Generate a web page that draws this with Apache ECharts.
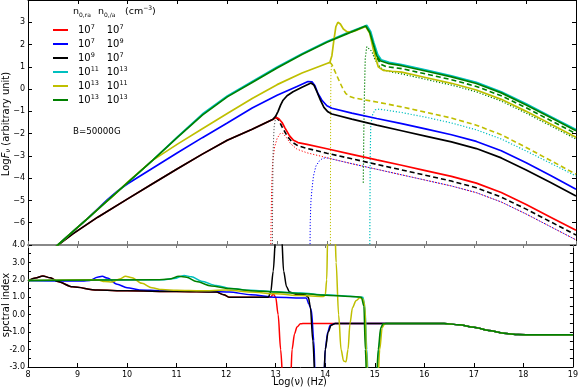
<!DOCTYPE html>
<html>
<head>
<meta charset="utf-8">
<script src="https://cdn.jsdelivr.net/npm/echarts@6/dist/echarts.min.js"></script>
<style>
  html, body { margin: 0; padding: 0; background: #fff; }
  #chart { width: 581px; height: 389px; }
</style>
</head>
<body>
<div id="chart"></div>
<script>
// --- top panel: Log F_nu vs Log(nu), [x, y] pairs ---
const fluxRed = [[8.0,-8.23],[8.3,-7.6],[8.6,-7.0],[8.9,-6.5],[9.4,-5.75],[10.0,-4.93],[10.5,-4.25],[11.0,-3.58],[11.5,-2.92],[12.0,-2.3],[12.5,-1.8],[12.92,-1.35],[12.98,-1.28],[13.03,-1.32],[13.1,-1.5],[13.16,-1.75],[13.25,-2.1],[13.33,-2.3],[13.42,-2.4],[13.6,-2.48],[14.0,-2.68],[14.5,-2.93],[15.0,-3.18],[15.5,-3.42],[16.0,-3.67],[16.5,-3.92],[17.0,-4.22],[17.5,-4.64],[18.0,-5.18],[18.5,-5.76],[19.0,-6.34]];
const fluxBlue = [[8.0,-8.2],[8.6,-7.0],[9.0,-6.2],[9.2,-5.8],[9.4,-5.38],[9.6,-4.95],[9.8,-4.57],[10.0,-4.25],[10.5,-3.55],[11.0,-2.86],[11.5,-2.18],[12.0,-1.52],[12.5,-0.85],[13.0,-0.28],[13.4,0.12],[13.62,0.34],[13.7,0.33],[13.76,0.15],[13.82,-0.2],[13.9,-0.5],[14.0,-0.75],[14.1,-0.86],[14.5,-1.08],[15.0,-1.32],[15.5,-1.55],[16.0,-1.8],[16.5,-2.05],[17.0,-2.35],[17.5,-2.77],[18.0,-3.31],[18.5,-3.89],[19.0,-4.5]];
const fluxBlack = [[8.0,-8.23],[8.3,-7.6],[8.6,-7.0],[8.9,-6.5],[9.4,-5.75],[10.0,-4.93],[10.5,-4.25],[11.0,-3.58],[11.5,-2.92],[12.0,-2.3],[12.5,-1.8],[12.92,-1.35],[12.97,-1.22],[13.02,-1.0],[13.07,-0.72],[13.12,-0.5],[13.2,-0.3],[13.32,-0.12],[13.5,0.08],[13.68,0.27],[13.74,0.18],[13.8,-0.12],[13.87,-0.5],[13.94,-0.82],[14.02,-1.02],[14.1,-1.12],[14.5,-1.35],[15.0,-1.62],[15.5,-1.87],[16.0,-2.12],[16.5,-2.37],[17.0,-2.67],[17.5,-3.09],[18.0,-3.63],[18.5,-4.21],[19.0,-4.8]];
const fluxCyan = [[8.0,-8.2],[8.6,-7.0],[9.0,-6.2],[9.2,-5.8],[9.5,-5.2],[10.0,-4.2],[10.5,-3.2],[11.0,-2.15],[11.5,-1.12],[12.0,-0.31],[12.5,0.34],[13.0,0.99],[13.5,1.59],[14.0,2.14],[14.4,2.52],[14.8,2.87],[14.88,2.58],[14.94,2.1],[15.02,1.55],[15.09,1.32],[15.25,1.2],[15.5,1.1],[16.0,0.85],[16.5,0.6],[17.0,0.3],[17.5,-0.12],[18.0,-0.66],[18.5,-1.24],[19.0,-1.82]];
const fluxYellow = [[8.0,-8.2],[8.6,-7.0],[9.0,-6.2],[9.2,-5.8],[9.5,-5.2],[9.7,-4.82],[10.0,-4.18],[10.5,-3.2],[11.0,-2.47],[11.5,-1.78],[12.0,-1.1],[12.5,-0.42],[13.0,0.2],[13.5,0.72],[14.0,1.15],[14.06,1.2],[14.1,1.5],[14.14,2.2],[14.18,2.8],[14.22,3.0],[14.27,2.92],[14.33,2.7],[14.4,2.58],[14.47,2.56],[14.55,2.6],[14.78,2.81],[14.86,2.5],[14.94,1.7],[15.03,1.0],[15.13,0.84],[15.3,0.8],[15.5,0.76],[16.0,0.51],[16.5,0.26],[17.0,-0.04],[17.5,-0.46],[18.0,-1.0],[18.5,-1.58],[19.0,-2.16]];
const fluxGreen = [[8.0,-8.2],[8.6,-7.0],[9.0,-6.2],[9.2,-5.8],[9.5,-5.2],[10.0,-4.2],[10.5,-3.2],[11.0,-2.17],[11.5,-1.17],[12.0,-0.35],[12.5,0.3],[13.0,0.95],[13.5,1.55],[14.0,2.1],[14.4,2.48],[14.78,2.83],[14.86,2.55],[14.92,2.1],[15.0,1.5],[15.07,1.27],[15.25,1.14],[15.5,1.05],[16.0,0.8],[16.5,0.55],[17.0,0.25],[17.5,-0.17],[18.0,-0.71],[18.5,-1.29],[19.0,-1.87]];

const dashBlack = [[12.97,-1.25],[13.03,-1.38],[13.1,-1.7],[13.2,-2.1],[13.3,-2.38],[13.42,-2.55],[13.6,-2.66],[14.0,-2.88],[14.5,-3.13],[15.0,-3.38],[15.5,-3.63],[16.0,-3.88],[16.5,-4.13],[17.0,-4.43],[17.5,-4.85],[18.0,-5.39],[18.5,-5.97],[19.0,-6.55]];
const dashYellow = [[14.06,1.2],[14.1,1.1],[14.18,0.7],[14.26,0.3],[14.32,0.02],[14.38,-0.2],[14.46,-0.33],[14.55,-0.4],[15.0,-0.58],[15.5,-0.8],[16.0,-1.05],[16.5,-1.3],[17.0,-1.62],[17.5,-2.05],[18.0,-2.62],[18.5,-3.22],[19.0,-3.82]];
const dashGreen = [[14.92,2.1],[14.97,1.7],[15.02,1.35],[15.08,1.12],[15.2,1.0],[15.5,0.92],[16.0,0.67],[16.5,0.42],[17.0,0.12],[17.5,-0.3],[18.0,-0.84],[18.5,-1.42],[19.0,-2.0]];

const dotRed = [[12.87,-7.5],[12.88,-6.0],[12.89,-4.5],[12.91,-3.3],[12.95,-2.6],[13.0,-2.22],[13.06,-2.0],[13.11,-1.98],[13.18,-2.15],[13.27,-2.45],[13.4,-2.7],[13.6,-2.86],[14.0,-3.08],[14.5,-3.35],[15.0,-3.6],[15.5,-3.85],[16.0,-4.1],[16.5,-4.35],[17.0,-4.65],[17.5,-5.07],[18.0,-5.61],[18.5,-6.19],[19.0,-6.77]];
const dotBlack = [[12.905,-7.5],[12.91,-5.0],[12.92,-2.8],[12.94,-1.7],[12.97,-1.3]];
const dotBlue = [[13.66,-7.5],[13.665,-6.0],[13.68,-5.0],[13.7,-4.5],[13.73,-3.9],[13.78,-3.45],[13.85,-3.22],[13.92,-3.1],[14.0,-3.09],[14.5,-3.35],[15.0,-3.6],[15.5,-3.85],[16.0,-4.1],[16.5,-4.35],[17.0,-4.65],[17.5,-5.07],[18.0,-5.61],[18.5,-6.19],[19.0,-6.77]];
const dotYellow = [[14.07,-7.5],[14.072,-4.0],[14.075,-1.0],[14.08,0.6],[14.09,1.05],[14.1,1.1]];
const dotCyan = [[14.86,-7.5],[14.865,-5.0],[14.87,-3.0],[14.88,-1.6],[14.92,-1.12],[14.97,-0.93],[15.05,-0.9],[15.2,-0.95],[15.5,-1.05],[16.0,-1.27],[16.5,-1.52],[17.0,-1.83],[17.5,-2.24],[18.0,-2.78],[18.5,-3.34],[19.0,-3.9]];
const dotGreen = [[14.73,-4.2],[14.74,-2.0],[14.755,0.0],[14.77,1.4],[14.8,1.9],[14.84,1.98],[14.9,1.7],[14.96,1.35],[15.03,1.08],[15.12,0.88],[15.3,0.76],[15.5,0.68],[16.0,0.43],[16.5,0.18],[17.0,-0.12],[17.5,-0.54],[18.0,-1.08],[18.5,-1.66],[19.0,-2.24]];

// --- bottom panel: spectral index ---
const idxRed = [[8.0,1.92],[8.15,2.1],[8.3,2.22],[8.45,2.12],[8.6,1.9],[8.9,1.6],[9.4,1.42],[10.0,1.37],[11.0,1.33],[11.8,1.3],[11.95,1.15],[12.06,1.0],[12.9,1.0],[12.95,1.2],[13.0,1.0],[13.05,0.0],[13.1,-2.0],[13.15,-4.0],[13.3,-4.0],[13.33,-2.0],[13.38,-1.1],[13.43,-0.7],[13.5,-0.52],[13.6,-0.5],[16.4,-0.5],[16.7,-0.58],[17.0,-0.72],[17.3,-0.9],[17.6,-1.06],[17.9,-1.14],[18.2,-1.15],[19.0,-1.15]];
const idxBlue = [[8.0,1.95],[9.1,1.93],[9.25,1.97],[9.4,2.15],[9.5,2.2],[9.6,2.1],[9.8,1.75],[10.0,1.55],[10.25,1.42],[10.7,1.38],[11.5,1.35],[12.06,1.3],[12.5,1.15],[13.0,1.0],[13.62,0.96],[13.67,0.6],[13.72,0.27],[13.77,-1.5],[13.8,-4.0],[13.97,-4.0],[14.0,-2.0],[14.05,-1.0],[14.1,-0.6],[14.2,-0.5],[16.4,-0.5],[16.7,-0.58],[17.0,-0.72],[17.3,-0.9],[17.6,-1.06],[17.9,-1.14],[18.2,-1.15],[19.0,-1.15]];
const idxBlack = [[8.0,1.92],[8.15,2.1],[8.3,2.22],[8.45,2.12],[8.6,1.9],[8.9,1.6],[9.4,1.42],[10.0,1.37],[11.0,1.33],[11.8,1.3],[11.95,1.15],[12.06,1.0],[12.85,1.0],[12.9,1.3],[12.95,2.5],[13.0,4.5],[13.12,4.5],[13.16,2.5],[13.22,1.6],[13.28,1.3],[13.4,1.18],[13.6,1.13],[13.66,1.0],[13.7,0.44],[13.75,-1.5],[13.8,-4.0],[13.97,-4.0],[14.0,-2.0],[14.06,-1.0],[14.12,-0.6],[14.2,-0.5],[16.4,-0.5],[16.7,-0.58],[17.0,-0.72],[17.3,-0.9],[17.6,-1.06],[17.9,-1.14],[18.2,-1.15],[19.0,-1.15]];
const idxCyan = [[8.0,1.97],[10.7,2.0],[10.95,2.08],[11.15,2.25],[11.3,2.18],[11.5,1.92],[11.8,1.68],[12.1,1.5],[12.5,1.4],[13.0,1.32],[13.5,1.24],[14.0,1.14],[14.5,1.06],[14.76,1.0],[14.8,0.5],[14.84,-2.0],[14.87,-4.0],[15.04,-4.0],[15.08,-2.0],[15.13,-0.75],[15.18,-0.52],[15.3,-0.5],[16.4,-0.5],[16.7,-0.58],[17.0,-0.72],[17.3,-0.9],[17.6,-1.06],[17.9,-1.14],[18.2,-1.15],[19.0,-1.15]];
const idxYellow = [[8.0,1.97],[9.4,2.0],[9.55,1.9],[9.7,1.88],[9.85,2.05],[9.97,2.2],[10.1,2.12],[10.3,1.8],[10.5,1.55],[10.7,1.44],[11.0,1.4],[11.5,1.37],[12.0,1.42],[12.5,1.3],[13.0,1.2],[13.5,1.1],[13.95,1.05],[14.0,1.1],[14.03,2.0],[14.05,4.5],[14.2,4.5],[14.22,3.0],[14.27,0.0],[14.32,-2.0],[14.37,-2.65],[14.42,-2.7],[14.46,-2.0],[14.5,-0.5],[14.55,0.4],[14.62,0.8],[14.7,0.98],[14.76,0.9],[14.8,0.5],[14.83,-2.0],[14.86,-4.0],[15.06,-4.0],[15.1,-2.0],[15.15,-0.75],[15.2,-0.52],[15.3,-0.5],[16.4,-0.5],[16.7,-0.58],[17.0,-0.72],[17.3,-0.9],[17.6,-1.06],[17.9,-1.14],[18.2,-1.15],[19.0,-1.15]];
const idxGreen = [[8.0,1.97],[10.6,2.0],[10.85,2.05],[11.05,2.2],[11.2,2.15],[11.4,1.9],[11.7,1.65],[12.06,1.5],[12.5,1.38],[13.0,1.3],[13.5,1.22],[14.0,1.12],[14.5,1.05],[14.73,1.0],[14.78,0.5],[14.81,-2.0],[14.84,-4.0],[15.03,-4.0],[15.07,-2.0],[15.12,-0.75],[15.17,-0.52],[15.3,-0.5],[16.4,-0.5],[16.7,-0.58],[17.0,-0.72],[17.3,-0.9],[17.6,-1.06],[17.9,-1.14],[18.2,-1.15],[19.0,-1.15]];

// legend rows: [n_0,ra exponent, n_0,/a exponent]
const legendNames = ['r', 'b', 'k', 'c', 'y', 'g'];
const legendExp = [['7', '7'], ['7', '9'], ['9', '7'], ['11', '13'], ['13', '11'], ['13', '13']];
const colors = { r: '#ff0000', b: '#0000ff', k: '#000000', c: '#00bfbf', y: '#bfbf00', g: '#008000' };

const FONT = 'DejaVu Sans';

function line(name, data, color, style, width, panel, z) {
  return {
    name: name,
    type: 'line',
    data: data,
    xAxisIndex: panel === 0 ? 0 : 2,
    yAxisIndex: panel === 0 ? 0 : 2,
    symbol: 'none',
    // the flux curves are dense enough for straight segments; the index bumps are smoothed
    smooth: panel === 0 ? false : 0.3,
    smoothMonotone: 'x',
    clip: true,
    z: z || 2,
    itemStyle: { color: color },
    lineStyle: { color: color, width: width, type: style }
  };
}

const series = [
  // dotted / dashed components in the top panel
  line('dr', dotRed, colors.r, [1.2, 1.8], 1, 0, 1),
  line('dk', dotBlack, '#555', [1.2, 1.8], 1, 0, 1),
  line('db', dotBlue, colors.b, [1.2, 1.8], 1, 0, 1),
  line('dy', dotYellow, colors.y, [1.2, 1.8], 1, 0, 1),
  line('dc', dotCyan, colors.c, [1.2, 1.8], 1.2, 0, 1),
  line('dg', dotGreen, colors.g, [1.2, 1.8], 1.2, 0, 1),
  line('ak', dashBlack, colors.k, [5, 3], 1.6, 0, 1),
  line('ay', dashYellow, colors.y, [5, 3], 1.6, 0, 1),
  line('ag', dashGreen, colors.g, [5, 3], 1.6, 0, 1),
  // solid curves, top
  line('r', fluxRed, colors.r, 'solid', 1.7, 0),
  line('b', fluxBlue, colors.b, 'solid', 1.7, 0),
  line('k', fluxBlack, colors.k, 'solid', 1.7, 0),
  line('c', fluxCyan, colors.c, 'solid', 1.7, 0),
  line('y', fluxYellow, colors.y, 'solid', 1.7, 0),
  line('g', fluxGreen, colors.g, 'solid', 1.7, 0),
  // spectral index, bottom
  line('r', idxRed, colors.r, 'solid', 1.5, 1),
  line('b', idxBlue, colors.b, 'solid', 1.5, 1),
  line('k', idxBlack, colors.k, 'solid', 1.5, 1),
  line('c', idxCyan, colors.c, 'solid', 1.5, 1),
  line('y', idxYellow, colors.y, 'solid', 1.5, 1),
  line('g', idxGreen, colors.g, 'solid', 1.5, 1)
];

const tickIn = (len, color) => ({ show: true, inside: true, length: len, lineStyle: { color: color || '#000', width: 1 } });
const noLabel = { show: false };
const noSplit = { show: false };

const chart = echarts.init(document.getElementById('chart'), null, { renderer: 'canvas' });
chart.setOption({
  animation: false,
  backgroundColor: '#fff',
  textStyle: { fontFamily: FONT },
  grid: [
    { left: 28, right: 5, top: 0, height: 245 },
    { left: 28, right: 5, top: 245, height: 122 }
  ],
  xAxis: [
    { gridIndex: 0, type: 'value', min: 8, max: 19, interval: 1, position: 'bottom',
      axisLine: { onZero: false, lineStyle: { color: '#888', width: 2 } }, axisTick: tickIn(4, '#777'),
      axisLabel: noLabel, splitLine: noSplit },
    { gridIndex: 0, type: 'value', min: 8, max: 19, interval: 1, position: 'top',
      axisLine: { onZero: false, lineStyle: { color: '#000', width: 1 } }, axisTick: tickIn(4),
      axisLabel: noLabel, splitLine: noSplit },
    { gridIndex: 1, type: 'value', min: 8, max: 19, interval: 1, position: 'bottom',
      axisLine: { onZero: false, lineStyle: { color: '#000', width: 1 } }, axisTick: tickIn(4),
      axisLabel: { fontSize: 8, color: '#000', margin: 4, fontFamily: FONT },
      splitLine: noSplit },
    { gridIndex: 1, type: 'value', min: 8, max: 19, interval: 1, position: 'top',
      axisLine: { onZero: false, show: false }, axisTick: tickIn(3, '#777'),
      axisLabel: noLabel, splitLine: noSplit }
  ],
  yAxis: [
    { gridIndex: 0, type: 'value', min: -7, max: 4, interval: 1, position: 'left',
      axisLine: { show: true, onZero: false, lineStyle: { color: '#000' } }, axisTick: tickIn(4),
      axisLabel: { fontSize: 8, color: '#000', margin: 3, fontFamily: FONT,
        formatter: v => (v === -7 || v === 4) ? '' : (v < 0 ? '\u2212' + (-v) : String(v)) },
      splitLine: noSplit },
    { gridIndex: 0, type: 'value', min: -7, max: 4, interval: 1, position: 'right',
      axisLine: { show: true, onZero: false, lineStyle: { color: '#000' } }, axisTick: tickIn(4),
      axisLabel: noLabel, splitLine: noSplit },
    { gridIndex: 1, type: 'value', min: -3, max: 4, interval: 0.5, position: 'left',
      axisLine: { show: true, onZero: false, lineStyle: { color: '#000' } }, axisTick: tickIn(3),
      axisLabel: { fontSize: 8, color: '#000', margin: 3, fontFamily: FONT,
        formatter: v => Number.isInteger(v) ? v.toFixed(1) : '' },
      splitLine: noSplit },
    { gridIndex: 1, type: 'value', min: -3, max: 4, interval: 0.5, position: 'right',
      axisLine: { show: true, onZero: false, lineStyle: { color: '#000' } }, axisTick: tickIn(3),
      axisLabel: noLabel, splitLine: noSplit }
  ],
  legend: {
    data: legendNames.map(n => ({ name: n, icon: 'rect' })),
    orient: 'vertical',
    left: 53,
    top: 24,
    padding: 0,
    itemWidth: 15,
    itemHeight: 2,
    itemGap: 3,
    selectedMode: false,
    formatter: name => {
      const e = legendExp[legendNames.indexOf(name)];
      return '{t|10}{s1|' + e[0] + '}{t|10}{s|' + e[1] + '}';
    },
    textStyle: {
      fontFamily: FONT,
      padding: [0, 0, 0, 5],
      rich: {
        t: { fontSize: 10, lineHeight: 12, color: '#000', fontFamily: FONT },
        s1: { fontSize: 6.5, lineHeight: 7, verticalAlign: 'top', width: 16, color: '#000', fontFamily: FONT },
        s: { fontSize: 6.5, lineHeight: 7, verticalAlign: 'top', color: '#000', fontFamily: FONT }
      }
    }
  },
  graphic: [
    { type: 'text', left: 73, top: 5, silent: true,
      style: { text: '{n|n}{b|0,ra}{g|}{n|n}{c|0,/a}{h|}{n|(cm}{u|\u22123}{n|)}', fontFamily: FONT,
        rich: {
          n: { fontSize: 9.5, lineHeight: 13, fontFamily: FONT },
          b: { fontSize: 6, lineHeight: 7, verticalAlign: 'bottom', fontFamily: FONT, width: 10 },
          c: { fontSize: 6, lineHeight: 7, verticalAlign: 'bottom', fontFamily: FONT, width: 13 },
          g: { width: 9 },
          h: { width: 8 },
          u: { fontSize: 6, lineHeight: 7, verticalAlign: 'top', fontFamily: FONT }
        } } },
    { type: 'text', left: 73, top: 127, silent: true,
      style: { text: 'B=50000G', fontSize: 8.7, fontFamily: FONT, fill: '#000' } },
    { type: 'text', x: 300, y: 382, silent: true,
      style: { text: 'Log(\u03bd) (Hz)', fontSize: 9.8, fontFamily: FONT, fill: '#000', align: 'center', verticalAlign: 'middle' } },
    { type: 'text', x: 6, y: 124, rotation: Math.PI / 2, silent: true,
      style: { text: '{n|Log}{i|F}{s|\u03bd}{n| (arbitrary unit)}', align: 'center', verticalAlign: 'middle', fontFamily: FONT,
        rich: {
          n: { fontSize: 10, lineHeight: 12, fontFamily: FONT },
          i: { fontSize: 10, lineHeight: 12, fontStyle: 'italic', fontFamily: FONT },
          s: { fontSize: 6.5, lineHeight: 7, verticalAlign: 'bottom', fontStyle: 'italic', fontFamily: FONT }
        } } },
    { type: 'text', x: 6, y: 305, rotation: Math.PI / 2, silent: true,
      style: { text: 'spctral index', fontSize: 10, fontFamily: FONT, fill: '#000', align: 'center', verticalAlign: 'middle' } }
  ],
  series: series
});
</script>
</body>
</html>
